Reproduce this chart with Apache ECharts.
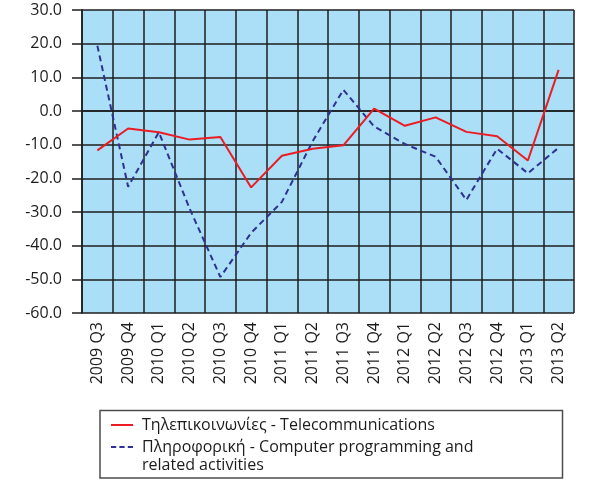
<!DOCTYPE html>
<html>
<head>
<meta charset="utf-8">
<script src="https://cdn.jsdelivr.net/npm/echarts@6/dist/echarts.min.js"></script>
<style>
  html, body { margin: 0; padding: 0; background: #ffffff; }
  #chart { width: 590px; height: 480px; }
</style>
</head>
<body>
<div id="chart"></div>
<script>
// Quarterly change (%) by sector
const quarters = [
  '2009 Q3', '2009 Q4', '2010 Q1', '2010 Q2', '2010 Q3', '2010 Q4',
  '2011 Q1', '2011 Q2', '2011 Q3', '2011 Q4', '2012 Q1', '2012 Q2',
  '2012 Q3', '2012 Q4', '2013 Q1', '2013 Q2'
];
const telecomValues = [
  -11.7, -5.2, -6.3, -8.5, -7.7, -22.7,
  -13.3, -11.2, -10.2, 0.7, -4.4, -1.9,
  -6.2, -7.5, -14.7, 12.2
];
const computingValues = [
  19.4, -22.5, -6.3, -29.0, -49.3, -36.2,
  -27.0, -9.0, 6.3, -4.6, -9.8, -13.6,
  -26.4, -11.2, -18.5, -10.9
];
const telecomName = 'Τηλεπικοινωνίες - Telecommunications';
const computingName = 'Πληροφορική - Computer programming and';
const computingNameCont = 'related activities';
const yMin = -60, yMax = 30, yStep = 10;

const fontFamily = '"Open Sans", "Noto Sans", sans-serif';
const textColor = '#1c1c1c';
const gridColor = '#1e1e1e';

const chart = echarts.init(document.getElementById('chart'), null, { renderer: 'canvas' });

chart.setOption({
  backgroundColor: '#ffffff',
  animation: false,
  grid: { left: 82, right: 16, top: 10, bottom: 167, containLabel: false,
          show: true, backgroundColor: '#aadff7', borderWidth: 0 },
  xAxis: {
    type: 'category',
    data: quarters,
    boundaryGap: true,
    axisLine: { show: true, lineStyle: { color: gridColor, width: 1.5 } },
    axisTick: { show: false },
    splitLine: { show: true, interval: 0, lineStyle: { color: gridColor, width: 1.5 } },
    axisLabel: {
      interval: 0, rotate: 90, margin: 9,
      color: textColor, fontSize: 16, fontFamily: fontFamily
    }
  },
  yAxis: {
    type: 'value',
    min: yMin, max: yMax, interval: yStep,
    axisLine: { show: true, lineStyle: { color: gridColor, width: 1.5 } },
    axisTick: { show: true, length: 10, lineStyle: { color: gridColor, width: 1.5 } },
    splitLine: { show: true, lineStyle: { color: gridColor, width: 1.5 } },
    axisLabel: {
      margin: 20, color: textColor, fontSize: 16, fontFamily: fontFamily,
      formatter: v => v.toFixed(1)
    }
  },
  legend: {
    left: 111, top: 417,
    orient: 'vertical',
    height: 60,
    padding: 0,
    itemGap: 6,
    itemWidth: 22, itemHeight: 14,
    textStyle: { color: textColor, fontSize: 16, fontFamily: fontFamily, padding: [0, 0, 0, 4] },
    data: [
      { name: telecomName, icon: 'path://M0,0 L22,0 L22,2 L0,2 Z' },
      { name: computingName, icon: 'path://M0,0 L5,0 L5,2 L0,2 Z M8,0 L13,0 L13,2 L8,2 Z M16,0 L21,0 L21,2 L16,2 Z' }
    ]
  },
  graphic: [
    {
      type: 'rect',
      shape: { x: 100, y: 410.5, width: 462.5, height: 67.5 },
      style: { fill: '#ffffff', stroke: '#4d4d4d', lineWidth: 1.5 },
      z: -1
    },
    {
      type: 'text',
      x: 142, y: 465,
      style: {
        text: computingNameCont,
        verticalAlign: 'middle',
        fill: textColor, fontSize: 16, fontFamily: fontFamily
      },
      z: 10
    }
  ],
  series: [
    {
      name: telecomName,
      type: 'line',
      data: telecomValues,
      symbol: 'none',
      itemStyle: { color: '#ec1c24' },
      lineStyle: { color: '#ec1c24', width: 2 },
      z: 3
    },
    {
      name: computingName,
      type: 'line',
      data: computingValues,
      symbol: 'none',
      itemStyle: { color: '#2e3192' },
      lineStyle: { color: '#2e3192', width: 2, type: [6, 4] },
      z: 2
    }
  ]
});
</script>
</body>
</html>
